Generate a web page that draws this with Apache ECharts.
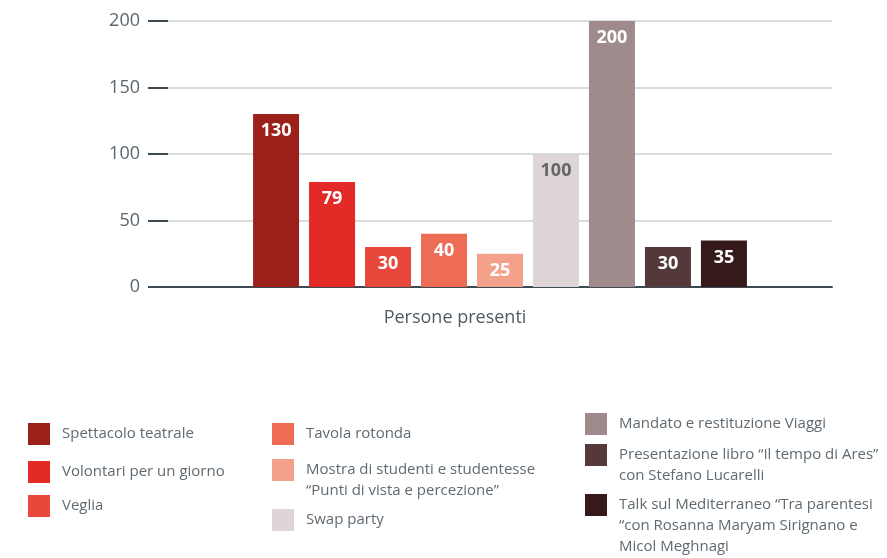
<!DOCTYPE html>
<html>
<head>
<meta charset="utf-8">
<script src="https://cdn.jsdelivr.net/npm/echarts@6/dist/echarts.min.js"></script>
<style>
  html, body { margin: 0; padding: 0; background: #fff; }
  #chart { width: 887px; height: 558px; }
</style>
</head>
<body>
<div id="chart"></div>
<script>
// Attendance per event
const categories = ['Persone presenti'];
const seriesNames = [
  'Spettacolo teatrale',
  'Volontari per un giorno',
  'Veglia',
  'Tavola rotonda',
  'Mostra di studenti e studentesse "Punti di vista e percezione"',
  'Swap party',
  'Mandato e restituzione Viaggi',
  'Presentazione libro "Il tempo di Ares" con Stefano Lucarelli',
  'Talk sul Mediterraneo "Tra parentesi "con Rosanna Maryam Sirignano e Micol Meghnagi'
];
const seriesValues = [130, 79, 30, 40, 25, 100, 200, 30, 35];
const legendLines = [
  ['Spettacolo teatrale'],
  ['Volontari per un giorno'],
  ['Veglia'],
  ['Tavola rotonda'],
  ['Mostra di studenti e studentesse', '\u201cPunti di vista e percezione\u201d'],
  ['Swap party'],
  ['Mandato e restituzione Viaggi'],
  ['Presentazione libro \u201cIl tempo di Ares\u201d', 'con Stefano Lucarelli'],
  ['Talk sul Mediterraneo \u201cTra parentesi', '\u201ccon Rosanna Maryam Sirignano e', 'Micol Meghnagi']
];
const yTicks = [0, 50, 100, 150, 200];

const colors = ['#9b2019', '#e42a27', '#e8483b', '#ee6b55', '#f3a18a', '#ddd5d6', '#9f8b8b', '#55383a', '#361a1b'];
const labelColors = ['#fff', '#fff', '#fff', '#fff', '#fff', '#666666', '#fff', '#fff', '#fff'];

// Legend placement: [left, iconCenterY]
const legendPos = [
  [28, 434], [28, 472], [28, 506],
  [272, 434], [272, 470], [272, 520],
  [585, 424], [585, 455], [585, 505]
];

const FONT = '"Open Sans", sans-serif';
const LINE_H = 21;
const ICON = 22;

const chart = echarts.init(document.getElementById('chart'), null, { renderer: 'canvas' });

// Each legend entry is its own component so the three columns can be placed freely.
// Blank lines are prepended to multi-line entries so the first line sits beside the swatch.
const legends = seriesNames.map((name, i) => {
  const n = legendLines[i].length;
  const blockH = (2 * n - 1) * LINE_H;
  const half = Math.max(ICON, blockH) / 2;
  const text = new Array(n - 1).fill('').concat(legendLines[i]).join('\n');
  return {
    data: [name],
    left: legendPos[i][0],
    top: legendPos[i][1] - half,
    padding: 0,
    orient: 'vertical',
    itemWidth: ICON,
    itemHeight: ICON,
    icon: 'rect',
    selectedMode: false,
    formatter: () => text,
    textStyle: {
      color: '#5f6a72',
      fontFamily: FONT,
      fontSize: 15,
      lineHeight: LINE_H,
      padding: [0, 0, 0, 7]
    }
  };
});

const option = {
  animation: false,
  color: colors,
  legend: legends,
  grid: { left: 168, right: 55, top: 21, bottom: 271 },
  xAxis: {
    type: 'category',
    data: categories,
    axisLine: { lineStyle: { color: '#3e4a52', width: 2 } },
    axisTick: { show: false },
    axisLabel: {
      color: '#4f5b63',
      fontFamily: FONT,
      fontSize: 18,
      margin: 22,
      padding: [0, 90, 0, 0]
    }
  },
  yAxis: {
    type: 'value',
    min: yTicks[0],
    max: yTicks[yTicks.length - 1],
    interval: 50,
    axisLine: { show: false },
    axisTick: { show: true, inside: false, length: 20, lineStyle: { color: '#3e4a52', width: 2 } },
    axisLabel: { color: '#5a666e', fontFamily: FONT, fontSize: 18, margin: 28 },
    splitLine: { lineStyle: { color: '#d9dcdd', width: 2 } }
  },
  series: seriesNames.map((name, i) => ({
    name: name,
    type: 'bar',
    data: [seriesValues[i]],
    barWidth: 46,
    barGap: '21.7%',
    itemStyle: { color: colors[i] },
    label: {
      show: true,
      position: 'insideTop',
      distance: 8,
      color: labelColors[i],
      fontFamily: FONT,
      fontWeight: 'bold',
      fontSize: 18
    }
  }))
};

chart.setOption(option);
</script>
</body>
</html>
